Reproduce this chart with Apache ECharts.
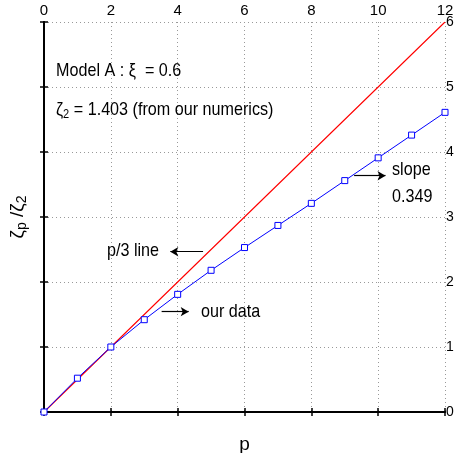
<!DOCTYPE html>
<html>
<head>
<meta charset="utf-8">
<script src="https://cdn.jsdelivr.net/npm/echarts@6/dist/echarts.min.js"></script>
<style>
  html, body { margin: 0; padding: 0; background: #fff; }
  #main { width: 454px; height: 453px; }
</style>
</head>
<body>
<div id="main"></div>
<script>
// data
var pValues = [0, 1, 2, 3, 4, 5, 6, 7, 8, 9, 10, 11, 12];
var ourData = [0, 0.52, 1.0, 1.42, 1.81, 2.18, 2.53, 2.87, 3.21, 3.56, 3.91, 4.26, 4.61];
var p3Line = [[0, 0], [6, 3], [12, 6]]; // p/3 line, normalised by zeta_2
var xTicks = [0, 2, 4, 6, 8, 10, 12];
var yTicks = [0, 1, 2, 3, 4, 5, 6];

var font = 'Liberation Sans';
var narrow = 0.85; // squeeze the annotation text, the original uses a narrow face
var myChart = echarts.init(document.getElementById('main'));

// arrow from one data point to another (annotation)
function arrow(from, to) {
  return [
    { coord: from, symbol: 'none' },
    { coord: to, symbol: 'arrow', symbolSize: [7, 8] }
  ];
}

var axisTick = { inside: true, length: 4, lineStyle: { color: '#000', width: 1.5 } };
var axisLine = { lineStyle: { color: '#000', width: 2 } };
var splitLine = { show: true, lineStyle: { color: '#999', type: [1, 3], width: 1 } };

function txt(str, x, y) {
  return { type: 'text', x: x, y: y, scaleX: narrow, z: 10,
    style: { text: str, font: '19px ' + font, fill: '#000', lineHeight: 19 } };
}

var option = {
  animation: false,
  backgroundColor: '#fff',
  textStyle: { fontFamily: font },
  grid: { left: 44, right: 9, top: 22, bottom: 41, containLabel: false, outerBoundsMode: 'none' },
  xAxis: [
    {
      type: 'value', position: 'bottom', min: 0, max: 12, interval: 2,
      name: 'p', nameLocation: 'middle', nameGap: 23,
      nameTextStyle: { fontFamily: font, fontSize: 19, color: '#000' },
      axisLine: axisLine, axisTick: axisTick,
      axisLabel: { show: false },
      splitLine: splitLine
    },
    {
      type: 'value', position: 'top', min: 0, max: 12, interval: 2,
      axisLine: axisLine, axisTick: axisTick,
      axisLabel: { margin: 4, fontFamily: font, fontSize: 15, color: '#000' },
      splitLine: { show: false }
    }
  ],
  yAxis: [
    {
      type: 'value', position: 'left', min: 0, max: 6, interval: 1,
      name: '{z|ζ}{s|p}{z| /ζ}{s|2}', nameLocation: 'middle', nameGap: 14, nameRotate: 90,
      nameTextStyle: {
        fontFamily: font, color: '#000',
        rich: {
          z: { fontFamily: font, fontSize: 19, color: '#000', lineHeight: 24 },
          s: { fontFamily: font, fontSize: 14, color: '#000', lineHeight: 24, padding: [9, 0, 0, 0] }
        }
      },
      axisLine: axisLine, axisTick: axisTick,
      axisLabel: { show: false },
      splitLine: splitLine
    },
    {
      type: 'value', position: 'right', min: 0, max: 6, interval: 1,
      axisLine: axisLine, axisTick: axisTick,
      axisLabel: { margin: 1, fontFamily: font, fontSize: 14, color: '#000' },
      splitLine: { show: false }
    }
  ],
  series: [
    {
      name: 'p/3 line', type: 'line', xAxisIndex: 0, yAxisIndex: 0,
      data: p3Line, symbol: 'none', color: '#ff0000',
      lineStyle: { color: '#ff0000', width: 1.1 }, z: 3
    },
    {
      name: 'our data', type: 'line', xAxisIndex: 0, yAxisIndex: 0,
      data: pValues.map(function (p, i) { return [p, ourData[i]]; }),
      symbol: 'rect', symbolSize: 6, color: '#0000ff',
      itemStyle: { color: '#fff', borderColor: '#0000ff', borderWidth: 1 },
      lineStyle: { color: '#0000ff', width: 1 }, z: 4
    },
    {
      name: 'arrows', type: 'line', xAxisIndex: 0, yAxisIndex: 0,
      data: [], symbol: 'none',
      markLine: {
        silent: true, animation: false,
        label: { show: false },
        lineStyle: { color: '#000', width: 1.2, type: 'solid' },
        data: [
          arrow([4.76, 2.466], [3.78, 2.466]),
          arrow([3.52, 1.543], [4.33, 1.543]),
          arrow([9.28, 3.635], [10.22, 3.635])
        ]
      }
    }
  ],
  graphic: [
    txt('Model A : ξ  = 0.6', 56, 61),
    {
      type: 'text', x: 56, y: 99, scaleX: narrow, z: 10,
      style: {
        text: '{z|ζ}{s|2}{t| = 1.403 (from our numerics)}',
        rich: {
          z: { font: '19px ' + font, fill: '#000', lineHeight: 22 },
          s: { font: '13px ' + font, fill: '#000', lineHeight: 22, padding: [8, 0, 0, 0] },
          t: { font: '19px ' + font, fill: '#000', lineHeight: 22 }
        }
      }
    },
    txt('p/3 line', 107, 241),
    txt('our data', 201, 302),
    txt('slope', 392, 160),
    txt('0.349', 392, 187)
  ]
};
myChart.setOption(option);
</script>
</body>
</html>
